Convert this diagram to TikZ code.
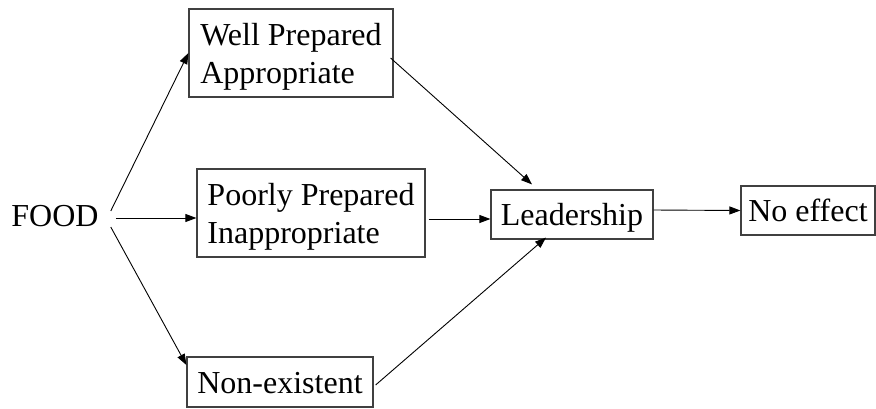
\documentclass[tikz,border=0pt]{standalone}
\usepackage{fontspec}
\setmainfont{Liberation Serif}
\usetikzlibrary{arrows.meta}
\tikzset{
  box/.style={draw=black!75, line width=1.2pt, inner sep=0pt,
    font=\fontsize{32}{37.5}\selectfont},
  onel/.style={box, text height=25pt, text depth=3pt},
  twol/.style={box, align=left, text height=64pt, text depth=4pt},
  plain/.style={inner sep=0pt, font=\fontsize{32}{37.5}\selectfont},
  arr/.style={line width=0.9pt, -{Triangle[length=11pt,width=8pt]}},
}
\begin{document}
\begin{tikzpicture}[x=1pt,y=-1pt]
\useasboundingbox (0,0) rectangle (876,408);
\node[plain] (food) at (55,216) {FOOD};
\node[twol, minimum width=204pt, minimum height=88pt] (well) at (291,53) {Well Prepared\\Appropriate};
\node[twol, minimum width=228pt, minimum height=88pt] (poor) at (311,213) {Poorly Prepared\\Inappropriate};
\node[onel, minimum width=186pt, minimum height=50pt] (non) at (280,382) {Non-existent};
\node[onel, minimum width=162pt, minimum height=49pt] (lead) at (572,214.5) {Leadership};
\node[onel, minimum width=134pt, minimum height=49pt] (noeff) at (808,210.5) {No effect};
\draw[arr] ([xshift=12pt,yshift=5pt]food.east) -- (well.west);
\draw[arr] ([xshift=17pt,yshift=-2pt]food.east) -- ([yshift=-5pt]poor.west);
\draw[arr] ([xshift=12pt,yshift=-11pt]food.east) -- ([yshift=17pt]non.west);
\draw[arr] ([xshift=-3pt,yshift=-5pt]well.east) -- ([xshift=-40pt,yshift=5pt]lead.north);
\draw[arr] ([xshift=3pt,yshift=-6pt]poor.east) -- ([yshift=-4.5pt]lead.west);
\draw[arr] ([xshift=2pt,yshift=-3pt]non.east) -- ([xshift=-26pt,yshift=2pt]lead.south);
\draw[arr] ([yshift=4.5pt]lead.east) -- (noeff.west);
\end{tikzpicture}
\end{document}
